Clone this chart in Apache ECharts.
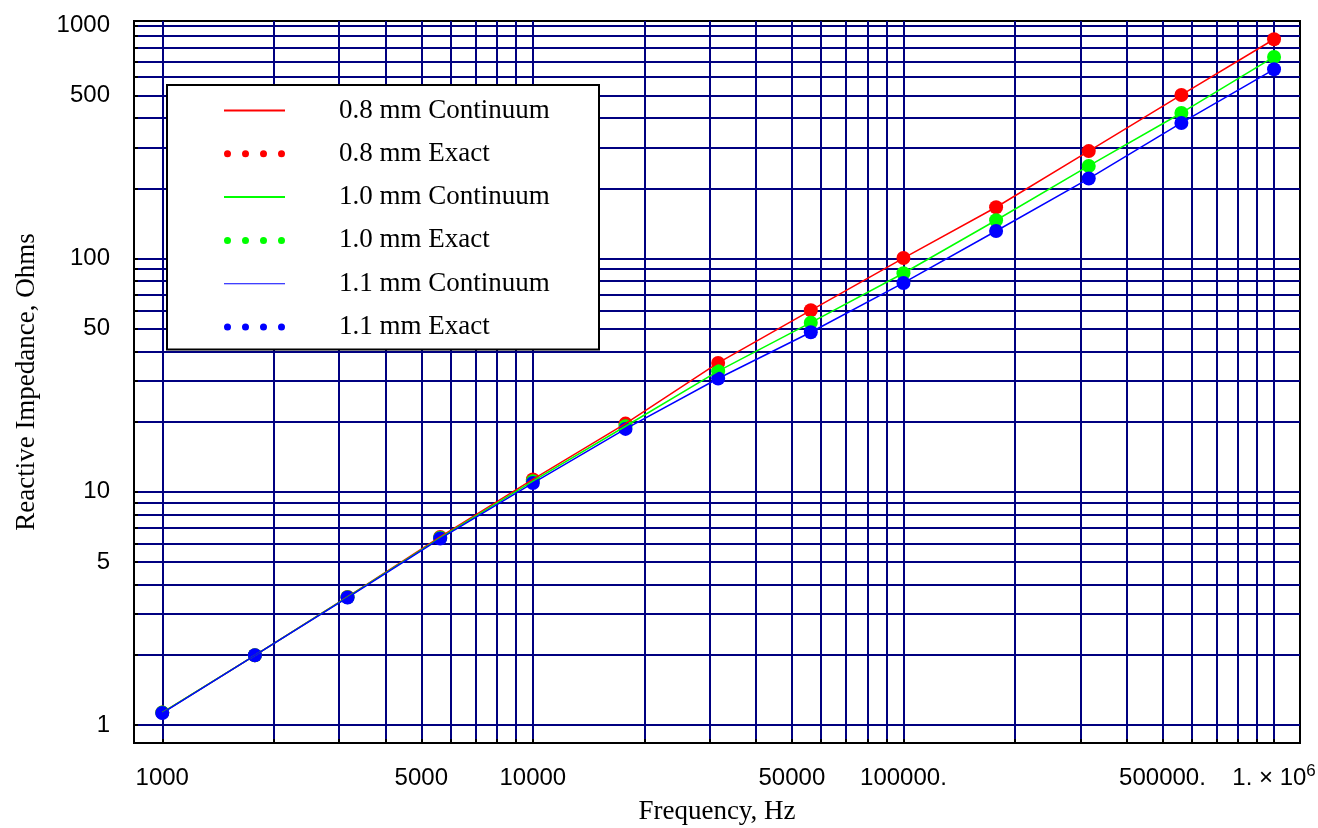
<!DOCTYPE html>
<html>
<head>
<meta charset="utf-8">
<script src="https://cdn.jsdelivr.net/npm/echarts@6/dist/echarts.min.js"></script>
<style>
html,body{margin:0;padding:0;background:#fff;}
#chart{width:1318px;height:828px;}
</style>
</head>
<body>
<div id="chart"></div>
<script>
// ---- data ----
var frequencies = [1000, 1778, 3162, 5623, 10000, 17783, 31623, 56234, 100000, 177828, 316228, 562341, 1000000];
var exact08 = [1.13, 1.99, 3.54, 6.4, 11.3, 19.6, 35.7, 60.0, 100.5, 166, 289, 503, 872];
var exact10 = [1.13, 1.99, 3.53, 6.35, 11.1, 19.1, 32.9, 53.1, 86.5, 146, 249.5, 421, 732];
var exact11 = [1.125, 1.99, 3.52, 6.3, 10.9, 18.6, 30.6, 48.3, 78.6, 131.3, 220.3, 381.5, 648];
var cont08 = exact08;
var cont10 = exact10;
var cont11 = exact11;

var xGridValues = [1000,2000,3000,4000,5000,6000,7000,8000,9000,
  10000,20000,30000,40000,50000,60000,70000,80000,90000,
  100000,200000,300000,400000,500000,600000,700000,800000,900000,1000000];
var yGridValues = [1,2,3,4,5,6,7,8,9,10,20,30,40,50,60,70,80,90,100,200,300,400,500,600,700,800,900,1000];
var xLabelValues = [1000, 5000, 10000, 50000, 100000, 500000, 1000000];
var xLabelTexts = ['1000', '5000', '10000', '50000', '100000.', '500000.', '{a|1. \u00d7 10}{s|6}'];
var yLabelValues = [1, 5, 10, 50, 100, 500, 1000];
var yLabelTexts = ['1', '5', '10', '50', '100', '500', '1000'];

var seriesNames = ['0.8 mm Continuum', '0.8 mm Exact', '1.0 mm Continuum', '1.0 mm Exact', '1.1 mm Continuum', '1.1 mm Exact'];

function pairs(ys) { return frequencies.map(function (f, i) { return [f, ys[i]]; }); }

var RED = '#ff0000', GREEN = '#00ff00', BLUE = '#0000ff', NAVY = '#000080';
var dotsIcon = 'path://M0,3.5a3.5,3.5 0 1,0 7,0a3.5,3.5 0 1,0 -7,0Z M18,3.5a3.5,3.5 0 1,0 7,0a3.5,3.5 0 1,0 -7,0Z M36,3.5a3.5,3.5 0 1,0 7,0a3.5,3.5 0 1,0 -7,0Z M54,3.5a3.5,3.5 0 1,0 7,0a3.5,3.5 0 1,0 -7,0Z';
var thickLine = 'path://M0,0H60V2H0Z';
var thinLine = 'path://M0,0H60V1H0Z';

var chart = echarts.init(document.getElementById('chart'), null, {renderer: 'canvas'});
var option = {
  animation: false,
  backgroundColor: '#fff',
  grid: {left: 134, right: 18, top: 21, bottom: 85, show: true, borderColor: '#000', borderWidth: 2, backgroundColor: '#fff', outerBoundsMode: 'none', containLabel: false},
  legend: {
    left: 167, top: 85, orient: 'vertical', selectedMode: false,
    backgroundColor: '#fff', borderColor: '#000', borderWidth: 2,
    padding: [12, 45, 9, 57],
    itemWidth: 61, itemHeight: 7, itemGap: 16.3, symbolKeepAspect: true,
    textStyle: {fontFamily: 'Liberation Serif', fontSize: 27, color: '#000', lineHeight: 27, padding: [0, 0, 0, 49], width: 215},
    data: [
      {name: seriesNames[0], icon: thickLine, itemStyle: {color: RED, borderWidth: 0}},
      {name: seriesNames[1], icon: dotsIcon, itemStyle: {color: RED, borderWidth: 0}},
      {name: seriesNames[2], icon: thickLine, itemStyle: {color: GREEN, borderWidth: 0}},
      {name: seriesNames[3], icon: dotsIcon, itemStyle: {color: GREEN, borderWidth: 0}},
      {name: seriesNames[4], icon: thinLine, itemStyle: {color: BLUE, borderWidth: 0}},
      {name: seriesNames[5], icon: dotsIcon, itemStyle: {color: BLUE, borderWidth: 0}}
    ]
  },
  xAxis: {
    type: 'log', logBase: 10, min: 839, max: 1175000,
    axisLine: {show: false},
    axisTick: {show: true, inside: true, length: 4, lineStyle: {color: '#000', width: 2}, customValues: xGridValues},
    splitLine: {show: true, lineStyle: {color: NAVY, width: 2}},
    axisLabel: {
      customValues: xLabelValues, margin: 47, verticalAlign: 'bottom',
      fontFamily: 'Liberation Sans', fontSize: 24, lineHeight: 24, color: '#000',
      formatter: function (v) { var i = xLabelValues.indexOf(v); return i >= 0 ? xLabelTexts[i] : ''; },
      rich: {
        a: {fontFamily: 'Liberation Sans', fontSize: 24, lineHeight: 24, color: '#000'},
        s: {fontFamily: 'Liberation Sans', fontSize: 17, lineHeight: 17, color: '#000', padding: [0, 0, 14, 0]}
      }
    },
    name: 'Frequency, Hz', nameLocation: 'middle', nameGap: 54,
    nameTextStyle: {fontFamily: 'Liberation Serif', fontSize: 27, color: '#000'}
  },
  yAxis: {
    type: 'log', logBase: 10, min: 0.837, max: 1044,
    axisLine: {show: false},
    axisTick: {show: true, inside: true, length: 4, lineStyle: {color: '#000', width: 2}, customValues: yGridValues},
    splitLine: {show: true, lineStyle: {color: NAVY, width: 2}},
    axisLabel: {
      customValues: yLabelValues, margin: 24,
      fontFamily: 'Liberation Sans', fontSize: 24, color: '#000',
      formatter: function (v) { var i = yLabelValues.indexOf(v); return i >= 0 ? yLabelTexts[i] : ''; }
    },
    name: 'Reactive Impedance, Ohms', nameLocation: 'middle', nameGap: 94,
    nameTextStyle: {fontFamily: 'Liberation Serif', fontSize: 27, color: '#000'}
  },
  series: [
    {name: seriesNames[0], type: 'line', data: pairs(cont08), showSymbol: false, symbol: 'none', lineStyle: {color: RED, width: 1.5}, itemStyle: {color: RED}},
    {name: seriesNames[1], type: 'scatter', data: pairs(exact08), symbol: 'circle', symbolSize: 14, itemStyle: {color: RED, opacity: 1}},
    {name: seriesNames[2], type: 'line', data: pairs(cont10), showSymbol: false, symbol: 'none', lineStyle: {color: GREEN, width: 1.5}, itemStyle: {color: GREEN}},
    {name: seriesNames[3], type: 'scatter', data: pairs(exact10), symbol: 'circle', symbolSize: 14, itemStyle: {color: GREEN, opacity: 1}},
    {name: seriesNames[4], type: 'line', data: pairs(cont11), showSymbol: false, symbol: 'none', lineStyle: {color: BLUE, width: 1.5}, itemStyle: {color: BLUE}},
    {name: seriesNames[5], type: 'scatter', data: pairs(exact11), symbol: 'circle', symbolSize: 14, itemStyle: {color: BLUE, opacity: 1}}
  ]
};
chart.setOption(option);
</script>
</body>
</html>
